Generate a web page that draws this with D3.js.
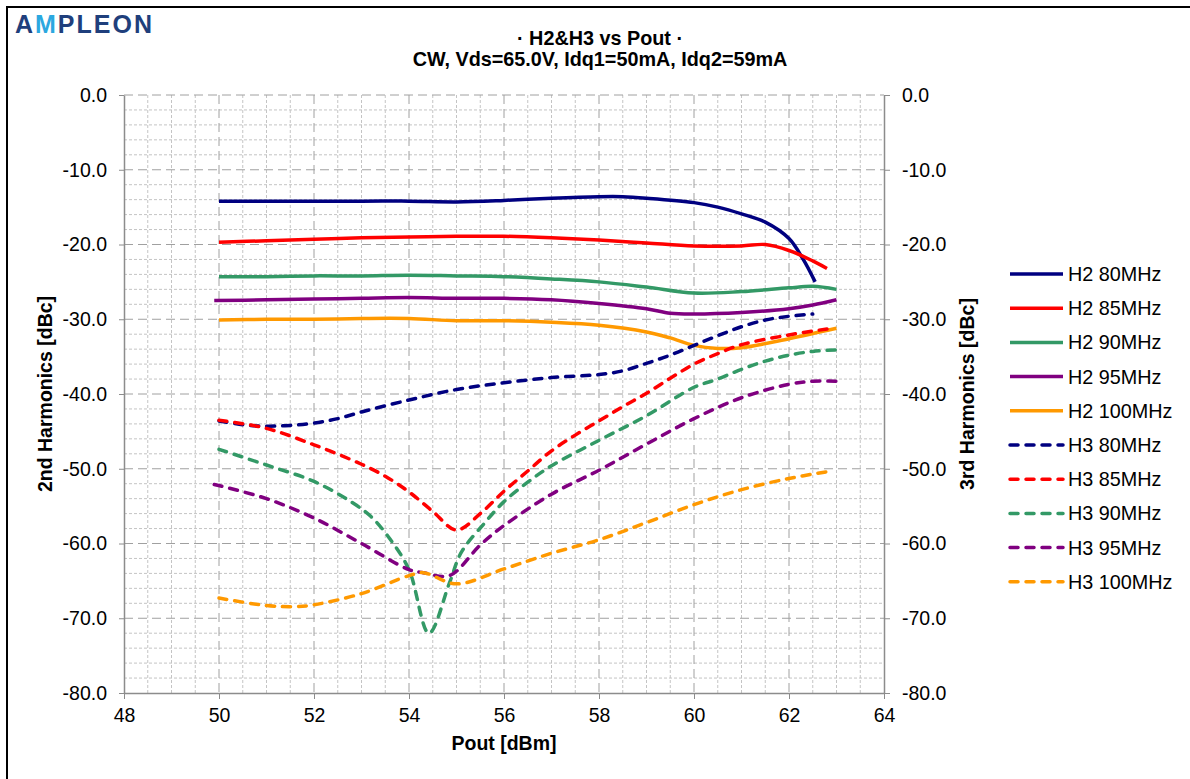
<!DOCTYPE html>
<meta charset="utf-8">
<style>
body { margin: 0; background: #fff; }
svg text { font-family: "Liberation Sans", Arial, sans-serif; fill: #000; }
.axis text { font-size: 19.5px; }
.axis path, .axis line { stroke: #8c8c8c; }
.grid-minor line { stroke: #c4c4c4; stroke-dasharray: 3,2; }
.grid-major line { stroke: #a0a0a0; stroke-dasharray: 9,5; }
.series { fill: none; stroke-width: 3.5; }
.title { font-size: 19.8px; font-weight: bold; }
.axis-title { font-size: 19.5px; font-weight: bold; }
.legend text { font-size: 19.8px; }
</style>
<body>
<script src="https://cdn.jsdelivr.net/npm/d3@7"></script>
<script>

// tick values
var xTicks = [48, 50, 52, 54, 56, 58, 60, 62, 64];
var yTicks = [0, -10, -20, -30, -40, -50, -60, -70, -80];

// series names
var seriesNames = ["H2 80MHz", "H2 85MHz", "H2 90MHz", "H2 95MHz", "H2 100MHz",
                   "H3 80MHz", "H3 85MHz", "H3 90MHz", "H3 95MHz", "H3 100MHz"];

// [Pout dBm, dBc]
var h2_80 = [[50,-14.2],[51,-14.2],[52,-14.2],[53,-14.2],[54,-14.2],[55,-14.3],[56,-14.1],[57,-13.8],
  [58,-13.6],[58.5,-13.6],[59,-13.8],[60,-14.4],[60.5,-15.0],[61,-15.9],[61.5,-17.0],[62,-19.2],[62.3,-22.0],[62.55,-25.0]];
var h2_85 = [[50,-19.7],[51,-19.5],[52,-19.3],[53,-19.1],[54,-19.0],[55,-18.9],[56,-18.9],[57,-19.1],
  [58,-19.4],[59,-19.8],[60,-20.2],[61,-20.2],[61.5,-20.0],[62,-20.8],[62.5,-22.2],[62.8,-23.2]];
var h2_90 = [[50,-24.3],[51,-24.3],[52,-24.2],[53,-24.2],[54,-24.1],[55,-24.2],[56,-24.3],[57,-24.6],
  [58,-25.0],[59,-25.7],[60,-26.5],[61,-26.3],[62,-25.8],[62.5,-25.6],[63,-26.0]];
var h2_95 = [[49.9,-27.5],[51,-27.4],[52,-27.3],[53,-27.2],[54,-27.1],[55,-27.2],[56,-27.2],[57,-27.4],
  [58,-27.9],[59,-28.6],[59.5,-29.2],[60,-29.3],[61,-29.1],[62,-28.6],[62.5,-28.1],[63,-27.4]];
var h2_100 = [[50,-30.1],[51,-30.0],[52,-30.0],[53,-29.9],[54,-29.9],[55,-30.2],[56,-30.2],[57,-30.4],
  [58,-30.8],[59,-31.7],[59.5,-32.5],[60,-33.5],[60.5,-33.9],[61,-33.8],[62,-32.6],[63,-31.2]];

var h3_80 = [[50,-43.6],[50.5,-44.1],[51,-44.3],[51.5,-44.2],[52,-43.9],[52.5,-43.3],[53,-42.4],[54,-40.8],
  [55,-39.4],[56,-38.5],[57,-37.8],[58,-37.4],[58.5,-36.9],[59,-35.9],[59.5,-34.8],[60,-33.5],[60.5,-32.2],
  [61,-31.0],[61.5,-30.1],[62,-29.6],[62.5,-29.3]];
var h3_85 = [[50,-43.5],[51,-44.6],[52,-46.8],[53,-49.4],[53.5,-51.0],[54,-53.1],[54.5,-55.7],[55,-58.2],
  [55.5,-56.0],[56,-53.0],[56.5,-50.3],[57,-47.6],[57.5,-45.5],[58,-43.6],[58.5,-41.7],[59,-39.9],[59.5,-37.9],
  [60,-36.0],[60.5,-34.6],[61,-33.4],[62,-32.1],[62.8,-31.3]];
var h3_90 = [[50,-47.4],[51,-49.5],[52,-51.7],[52.8,-54.5],[53.2,-56.4],[53.6,-59.4],[54,-63.5],[54.42,-72.0],
  [54.85,-65.3],[55.1,-61.2],[55.6,-57.2],[56,-54.4],[56.5,-51.8],[57,-49.6],[58,-46.2],[59,-42.9],[60,-39.1],
  [60.5,-38.0],[61,-36.7],[61.5,-35.6],[62,-34.8],[62.5,-34.3],[63,-34.1]];
var h3_95 = [[49.9,-52.1],[51,-54.0],[52,-56.6],[53,-60.0],[54,-63.5],[54.3,-63.9],[54.85,-64.3],[55.5,-60.2],
  [56,-57.6],[57,-53.4],[58,-50.2],[59,-46.7],[60,-43.3],[61,-40.5],[62,-38.7],[62.5,-38.3],[63,-38.3]];
var h3_100 = [[50,-67.3],[51,-68.3],[51.6,-68.45],[52,-68.2],[53,-66.7],[54,-64.3],[54.3,-63.9],[55,-65.4],
  [56,-63.4],[57,-61.3],[58,-59.5],[59,-57.2],[60,-54.8],[61,-52.8],[62,-51.3],[62.8,-50.4]];

var seriesData = [h2_80, h2_85, h2_90, h2_95, h2_100, h3_80, h3_85, h3_90, h3_95, h3_100];
var colors = ["#000080", "#ff0000", "#339966", "#800080", "#ff9900"];

var W = 1190, H = 779;
var margin = {top: 95, left: 124},
    width = 760,
    height = 598;

var svg = d3.select("body").append("svg")
    .attr("width", W)
    .attr("height", H);

// outer frame
svg.append("rect")
    .attr("x", 7).attr("y", 7)
    .attr("width", W).attr("height", H)
    .attr("fill", "none").attr("stroke", "#000").attr("stroke-width", 2);

// logo
var logo = svg.append("text")
    .attr("x", 15).attr("y", 33)
    .attr("textLength", 137)
    .style("font-size", "25px")
    .style("font-weight", "bold");
logo.append("tspan").text("A").style("fill", "#1f3f7c");
logo.append("tspan").text("M").style("fill", "#2ba8e0");
logo.append("tspan").text("PLEON").style("fill", "#1f3f7c");

// title
svg.append("text").attr("class", "title")
    .attr("x", 600).attr("y", 45).attr("text-anchor", "middle")
    .text("\u00b7 H2&H3 vs Pout \u00b7");
svg.append("text").attr("class", "title")
    .attr("x", 600).attr("y", 66).attr("text-anchor", "middle")
    .text("CW, Vds=65.0V, Idq1=50mA, Idq2=59mA");

var g = svg.append("g")
    .attr("transform", "translate(" + margin.left + "," + margin.top + ")");

var x = d3.scaleLinear().domain([48, 64]).range([0, width]);
var y0 = d3.scaleLinear().domain([-80, 0]).range([height, 0]);
var y1 = d3.scaleLinear().domain([-80, 0]).range([height, 0]);

// minor grid
var xMinor = d3.range(48.5, 64, 0.5).filter(function(d) { return d % 2 != 0; });
var yMinor = d3.range(-78, 0, 2).filter(function(d) { return d % 10 != 0; });

var minor = g.append("g").attr("class", "grid-minor");
minor.selectAll(".vx").data(xMinor).enter().append("line")
    .attr("x1", function(d) { return x(d); }).attr("x2", function(d) { return x(d); })
    .attr("y1", 0).attr("y2", height);
minor.selectAll(".hy").data(yMinor).enter().append("line")
    .attr("y1", function(d) { return y0(d); }).attr("y2", function(d) { return y0(d); })
    .attr("x1", 0).attr("x2", width);

// major grid
var major = g.append("g").attr("class", "grid-major");
major.selectAll(".vx").data(xTicks.slice(1, -1)).enter().append("line")
    .attr("x1", function(d) { return x(d); }).attr("x2", function(d) { return x(d); })
    .attr("y1", 0).attr("y2", height);
major.selectAll(".hy").data(yTicks.slice(0, -1)).enter().append("line")
    .attr("y1", function(d) { return y0(d); }).attr("y2", function(d) { return y0(d); })
    .attr("x1", 0).attr("x2", width);

var fmt = function(d) { return d.toFixed(1); };

// axes
g.append("g").attr("class", "axis")
    .attr("transform", "translate(0," + height + ")")
    .call(d3.axisBottom(x).tickValues(xTicks).tickSize(6).tickPadding(9).tickSizeOuter(0)
        .tickFormat(d3.format("d")));

g.append("g").attr("class", "axis")
    .call(d3.axisLeft(y0).tickValues(yTicks).tickSize(5).tickPadding(12).tickSizeOuter(0)
        .tickFormat(fmt));

g.append("g").attr("class", "axis")
    .attr("transform", "translate(" + width + ",0)")
    .call(d3.axisRight(y1).tickValues(yTicks).tickSize(6).tickPadding(12).tickSizeOuter(0)
        .tickFormat(fmt));

g.selectAll(".axis .domain").attr("stroke-width", 1.5);

// axis titles
g.append("text").attr("class", "axis-title")
    .attr("text-anchor", "middle")
    .attr("transform", "translate(" + (-72) + "," + (height / 2) + ") rotate(-90)")
    .text("2nd Harmonics [dBc]");
g.append("text").attr("class", "axis-title")
    .attr("text-anchor", "middle")
    .attr("transform", "translate(" + (width + 90) + "," + (height / 2) + ") rotate(-90)")
    .text("3rd Harmonics [dBc]");
g.append("text").attr("class", "axis-title")
    .attr("text-anchor", "middle")
    .attr("x", width / 2).attr("y", height + 57)
    .text("Pout [dBm]");

// curves
var line2 = d3.line()
    .x(function(d) { return x(d[0]); })
    .y(function(d) { return y0(d[1]); })
    .curve(d3.curveCatmullRom.alpha(0.5));
var line3 = d3.line()
    .x(function(d) { return x(d[0]); })
    .y(function(d) { return y1(d[1]); })
    .curve(d3.curveCatmullRom.alpha(0.5));

seriesData.forEach(function(data, i) {
    var dashed = i >= 5;
    g.append("path")
        .datum(data)
        .attr("class", "series")
        .attr("stroke", colors[i % 5])
        .attr("stroke-dasharray", dashed ? "8,8" : null)
        .attr("stroke-linecap", dashed ? "round" : "butt")
        .attr("d", dashed ? line3 : line2);
});

// legend
var legend = svg.append("g").attr("class", "legend")
    .attr("transform", "translate(1010,274)");
var item = legend.selectAll("g").data(seriesNames).enter().append("g")
    .attr("transform", function(d, i) { return "translate(0," + (i * 34.2) + ")"; });
item.append("line")
    .attr("x1", 0).attr("x2", 53)
    .attr("stroke", function(d, i) { return colors[i % 5]; })
    .attr("stroke-width", 3.5)
    .attr("stroke-dasharray", function(d, i) { return i >= 5 ? "8,8" : null; })
    .attr("stroke-linecap", function(d, i) { return i >= 5 ? "round" : "butt"; });
item.append("text")
    .attr("x", 58).attr("y", 7)
    .text(function(d) { return d; });

</script>
</body>
